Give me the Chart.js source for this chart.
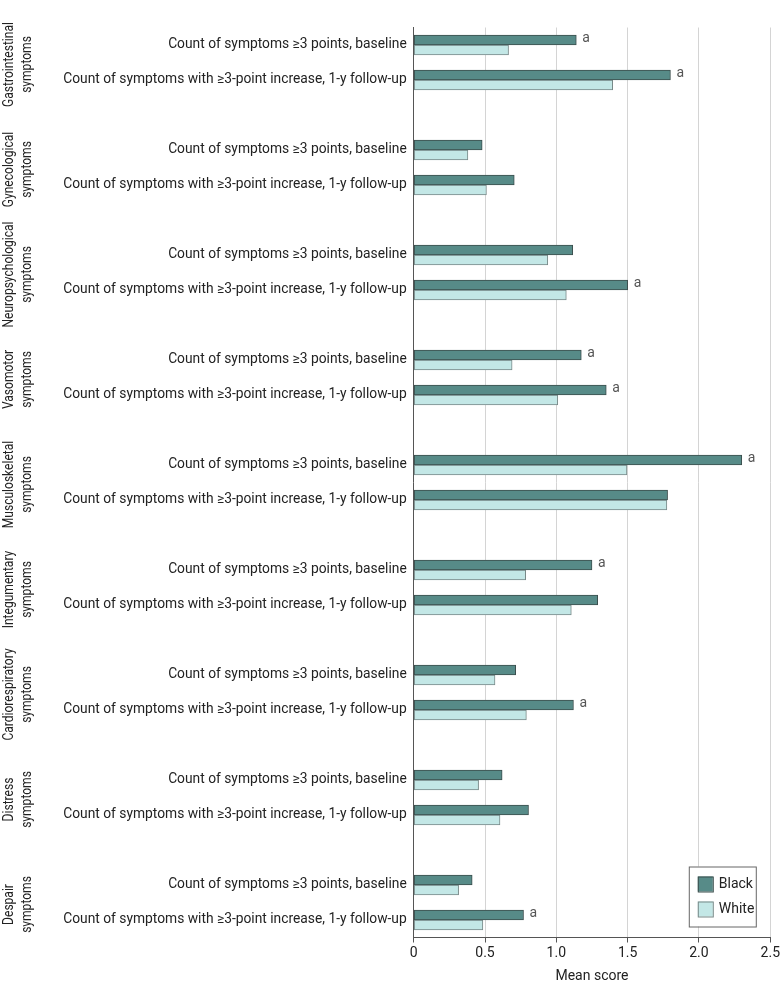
<!DOCTYPE html>
<html>
<head>
<meta charset="utf-8">
<script src="https://cdn.jsdelivr.net/npm/chart.js@4.4.1/dist/chart.umd.min.js"></script>
<style>
  html, body { margin: 0; padding: 0; background: #fff; }
  #wrap { width: 783px; height: 1002px; position: relative; }
</style>
</head>
<body>
<div id="wrap"><canvas id="chart"></canvas></div>
<script>
var groups = ["Gastrointestinal symptoms", "Gynecological symptoms", "Neuropsychological symptoms",
  "Vasomotor symptoms", "Musculoskeletal symptoms", "Integumentary symptoms",
  "Cardiorespiratory symptoms", "Distress symptoms", "Despair symptoms"];
var rowLabels = ["Count of symptoms \u22653 points, baseline",
  "Count of symptoms with \u22653-point increase, 1-y follow-up"];
var blackBaseline = [1.14, 0.48, 1.115, 1.175, 2.30, 1.25, 0.715, 0.62, 0.41];
var blackFollowup = [1.80, 0.705, 1.50, 1.35, 1.78, 1.29, 1.12, 0.805, 0.77];
var whiteBaseline = [0.665, 0.38, 0.94, 0.69, 1.495, 0.785, 0.57, 0.455, 0.315];
var whiteFollowup = [1.395, 0.51, 1.07, 1.01, 1.775, 1.105, 0.79, 0.605, 0.485];
var sigBaseline = [true, false, false, true, true, true, false, false, false];
var sigFollowup = [true, false, true, true, false, false, true, false, true];
var xTicks = [0, 0.5, 1.0, 1.5, 2.0, 2.5];

var FONT = "Roboto, 'Liberation Sans', sans-serif";

// rows: baseline, follow-up, blank spacer between groups
var labels = [], blackData = [], whiteData = [], sigFlags = [], groupRows = [];
groups.forEach(function (g, i) {
  groupRows.push(labels.length);
  labels.push(rowLabels[0], rowLabels[1]);
  blackData.push(blackBaseline[i], blackFollowup[i]);
  whiteData.push(whiteBaseline[i], whiteFollowup[i]);
  sigFlags.push(sigBaseline[i], sigFollowup[i]);
  if (i < groups.length - 1) {
    labels.push("");
    blackData.push(null);
    whiteData.push(null);
    sigFlags.push(false);
  }
});

var extras = {
  id: "extras",
  afterDraw: function (chart) {
    var ctx = chart.ctx;
    var yScale = chart.scales.y;
    var area = chart.chartArea;
    ctx.save();
    ctx.font = "14px " + FONT;
    ctx.fillStyle = "#222";
    // group names, rotated and a bit condensed
    groupRows.forEach(function (r, i) {
      var yc = (yScale.getPixelForValue(r) + yScale.getPixelForValue(r + 1)) / 2 + 2;
      var words = groups[i].split(" ");
      ctx.save();
      ctx.translate(0, yc);
      ctx.rotate(-Math.PI / 2);
      ctx.scale(0.86, 1);
      ctx.textAlign = "center";
      ctx.textBaseline = "middle";
      ctx.fillText(words[0], 0, 9.5);
      ctx.fillText(words[1], 0, 27.5);
      ctx.restore();
    });
    // significance marks
    var meta = chart.getDatasetMeta(0);
    ctx.fillStyle = "#555";
    ctx.textAlign = "left";
    ctx.textBaseline = "middle";
    sigFlags.forEach(function (s, i) {
      if (!s) return;
      var bar = meta.data[i];
      ctx.fillText("a", bar.x + 6, bar.y - 2);
    });
    // legend box
    var bw = 67, bh = 60;
    var bx = area.right - 14.5 - bw, by = area.bottom - 11 - bh;
    ctx.fillStyle = "#fff";
    ctx.fillRect(bx, by, bw, bh);
    ctx.strokeStyle = "#666";
    ctx.lineWidth = 1;
    ctx.strokeRect(bx + 0.5, by + 0.5, bw, bh);
    chart.data.datasets.forEach(function (ds, i) {
      var sy = by + 10 + i * 25;
      ctx.fillStyle = ds.backgroundColor;
      ctx.fillRect(bx + 9, sy, 15, 15);
      ctx.strokeStyle = ds.borderColor;
      ctx.strokeRect(bx + 9.5, sy + 0.5, 15, 15);
      ctx.fillStyle = "#222";
      ctx.fillText(ds.label, bx + 30, sy + 8);
    });
    ctx.restore();
  }
};

new Chart(document.getElementById("chart"), {
  type: "bar",
  data: {
    labels: labels,
    datasets: [
      { label: "Black", data: blackData, backgroundColor: "#578b88", borderColor: "#3b4e4d", borderWidth: 1, borderSkipped: false, barThickness: 10 },
      { label: "White", data: whiteData, backgroundColor: "#c3e7e6", borderColor: "#788988", borderWidth: 1, borderSkipped: false, barThickness: 10 }
    ]
  },
  options: {
    indexAxis: "y",
    responsive: true,
    maintainAspectRatio: false,
    animation: false,
    layout: { padding: { top: 27.5, right: 9.7, bottom: 0, left: 0 } },
    plugins: { legend: { display: false }, tooltip: { enabled: false } },
    scales: {
      x: {
        min: 0,
        max: 2.5,
        afterFit: function (s) { s.height = 64.5; },
        afterBuildTicks: function (s) { s.ticks = xTicks.map(function (v) { return { value: v }; }); },
        grid: { color: "#d4d4d4", tickColor: "#555", tickLength: 5, lineWidth: 1 },
        border: { display: true, color: "#555" },
        ticks: {
          color: "#222",
          font: { family: FONT, size: 14 },
          padding: 3,
          maxRotation: 0,
          callback: function (v) { return v === 0 ? "0" : v.toFixed(1); }
        },
        title: { display: true, text: "Mean score", color: "#222", font: { family: FONT, size: 14 }, padding: { top: 4, bottom: 17 } }
      },
      y: {
        afterFit: function (s) { s.width = 413.7; },
        grid: { display: false, drawTicks: false },
        border: { display: true, color: "#555" },
        ticks: { color: "#222", font: { family: FONT, size: 13.8 }, padding: 7, autoSkip: false }
      }
    }
  },
  plugins: [extras]
});
</script>
</body>
</html>
